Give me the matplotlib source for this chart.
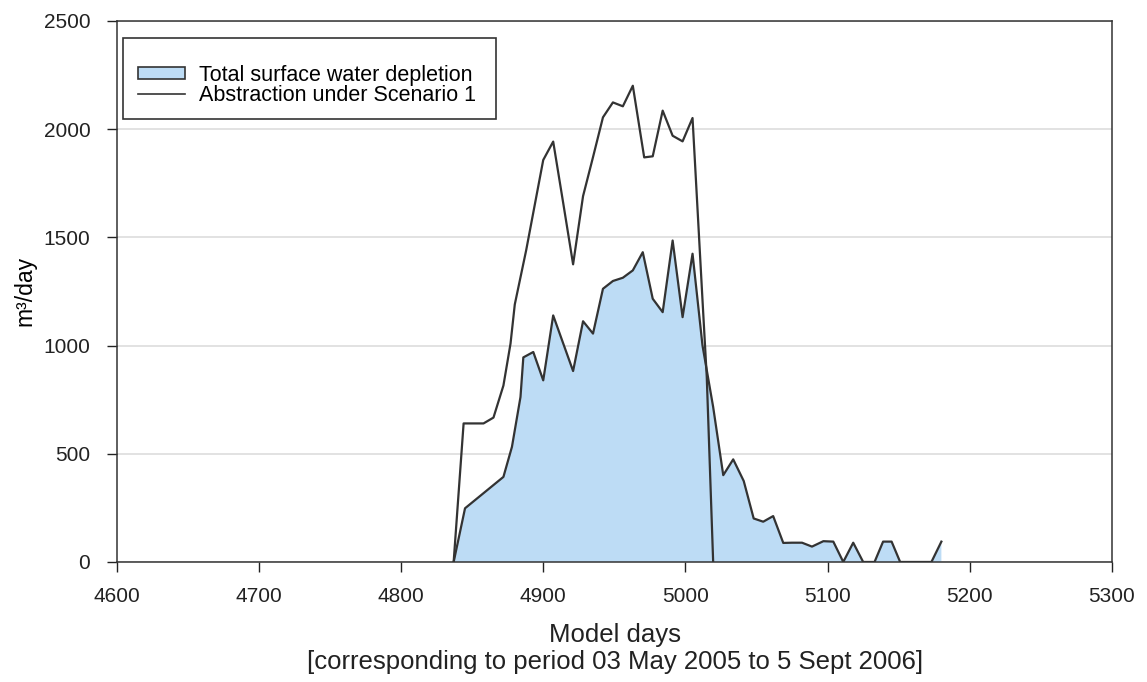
import matplotlib
matplotlib.use("Agg")
import matplotlib.pyplot as plt
from matplotlib.patches import Patch, Rectangle
from matplotlib.lines import Line2D

plt.rcParams['font.family'] = ['Liberation Sans', 'DejaVu Sans']

# Abstraction under Scenario 1
abs_days = [4837, 4844, 4858, 4865, 4872, 4877, 4880, 4888, 4900, 4907, 4914,
            4921, 4928, 4935, 4942, 4949, 4956, 4963, 4971, 4977, 4984, 4991,
            4998, 5005, 5012, 5015, 5019.5]
abs_vals = [0, 640, 640, 667, 815, 1009, 1190, 1440, 1857, 1942, 1660,
            1375, 1690, 1870, 2054, 2123, 2105, 2200, 1869, 1874, 2085, 1969,
            1943, 2051, 1210, 855, 0]

# Total surface water depletion
dep_days = [4837, 4845, 4872, 4878, 4884, 4886, 4893, 4900, 4907, 4921, 4928,
            4935, 4942, 4949, 4956, 4963, 4970, 4977, 4984, 4991, 4998, 5005,
            5012, 5019.5, 5026.6, 5033.6, 5041, 5048, 5054.7, 5061.7, 5068.8,
            5075, 5082, 5089, 5097, 5104, 5111, 5118, 5125, 5133, 5139, 5145,
            5151, 5173, 5180]
dep_vals = [0, 248, 393, 532, 762, 945, 970, 839, 1139, 882, 1112,
            1055, 1262, 1298, 1313, 1347, 1431, 1216, 1154, 1485, 1131, 1424,
            1000, 716, 401, 474, 374, 201, 186, 212, 88,
            89, 89, 71, 96, 94, 0, 89, 0, 0, 94, 94,
            0, 0, 94]

fig = plt.figure(figsize=(11.47, 6.82), dpi=100)
ax = fig.add_axes([0.1017, 0.176, 0.8678, 0.7935])

ax.fill_between(dep_days, dep_vals, 0, facecolor='#bddcf5', edgecolor='none', zorder=2)
ax.plot(dep_days, dep_vals, color='#333333', lw=1.6, zorder=3)
ax.plot(abs_days, abs_vals, color='#333333', lw=1.6, zorder=4)

ax.set_xlim(4600, 5300)
ax.set_ylim(0, 2500)
ax.set_xticks(range(4600, 5301, 100))
ax.set_yticks(range(0, 2501, 500))
ax.yaxis.grid(True, color='#dddddd', lw=1.2, zorder=0)
ax.set_axisbelow(True)
ax.tick_params(direction='out', length=7, width=1, labelsize=15, colors='#222222')
ax.tick_params(axis='x', pad=11)
ax.tick_params(axis='y', pad=12)
for s in ax.spines.values():
    s.set_linewidth(1.1)
    s.set_color('#333333')

ax.set_ylabel('m³/day', fontsize=16.5)
ax.yaxis.set_label_coords(-0.081, 0.5)
fig.text(0.5358, 1 - 635 / 682, 'Model days', fontsize=18.5, ha='center', va='center',
         color='#222222')
fig.text(0.5358, 1 - 662 / 682, '[corresponding to period 03 May 2005 to 5 Sept 2006]',
         fontsize=18.5, ha='center', va='center', color='#222222')

# legend box drawn separately so the entries can sit low in it like the original
ax.add_patch(Rectangle((0.0063, 0.8193), 0.3748, 0.1495, transform=ax.transAxes,
                       facecolor='white', edgecolor='#333333', lw=1.2, zorder=5))
handles = [Patch(facecolor='#bddcf5', edgecolor='#333333', lw=1.2),
           Line2D([0], [0], color='#333333', lw=1.2)]
leg = ax.legend(handles, ['Total surface water depletion', 'Abstraction under Scenario 1'],
                loc='upper left', bbox_to_anchor=(0.0214, 0.919), fontsize=15.5,
                frameon=False, handlelength=2.2, handleheight=0.5, handletextpad=0.65,
                borderpad=0, labelspacing=-0.05, borderaxespad=0)
leg.set_zorder(6)

fig.savefig('out.png', dpi=100)
